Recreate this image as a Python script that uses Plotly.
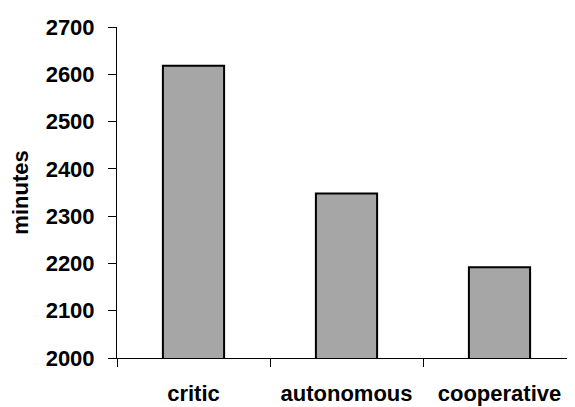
import plotly.graph_objects as go

categories = ["critic", "autonomous", "cooperative"]
minutes = [2618, 2348, 2192]
y_ticks = [2000, 2100, 2200, 2300, 2400, 2500, 2600, 2700]

font_family = "Liberation Sans, Arial, sans-serif"

fig = go.Figure(
    go.Bar(
        x=categories,
        y=minutes,
        width=0.4,
        marker=dict(color="#a6a6a6", line=dict(color="#000000", width=2)),
    )
)

# page body has an 8px margin, so the figure is offset by (8, 8)
fig.update_layout(
    width=575,
    height=407,
    margin=dict(l=109, r=7, t=15, b=57),
    plot_bgcolor="white",
    paper_bgcolor="white",
    showlegend=False,
    font=dict(family=font_family, size=22, color="#000000"),
)

fig.update_xaxes(
    range=[-0.5, 2.5],
    showline=True,
    linecolor="#000000",
    linewidth=1,
    ticks="outside",
    tickson="boundaries",
    ticklen=8,
    tickcolor="#000000",
    tickfont=dict(family=font_family, size=22, weight="bold"),
    ticklabelstandoff=16,
    showgrid=False,
)

fig.update_yaxes(
    range=[2000, 2700],
    tickvals=y_ticks,
    ticktext=[str(v) for v in y_ticks],
    showline=True,
    linecolor="#000000",
    linewidth=1,
    ticks="outside",
    ticklen=8,
    tickcolor="#000000",
    tickfont=dict(family=font_family, size=22, weight="bold"),
    ticklabelstandoff=9,
    showgrid=False,
    zeroline=False,
    title=dict(text="minutes", font=dict(family=font_family, size=22, weight="bold"), standoff=14),
)

fig.write_html("out.html")
